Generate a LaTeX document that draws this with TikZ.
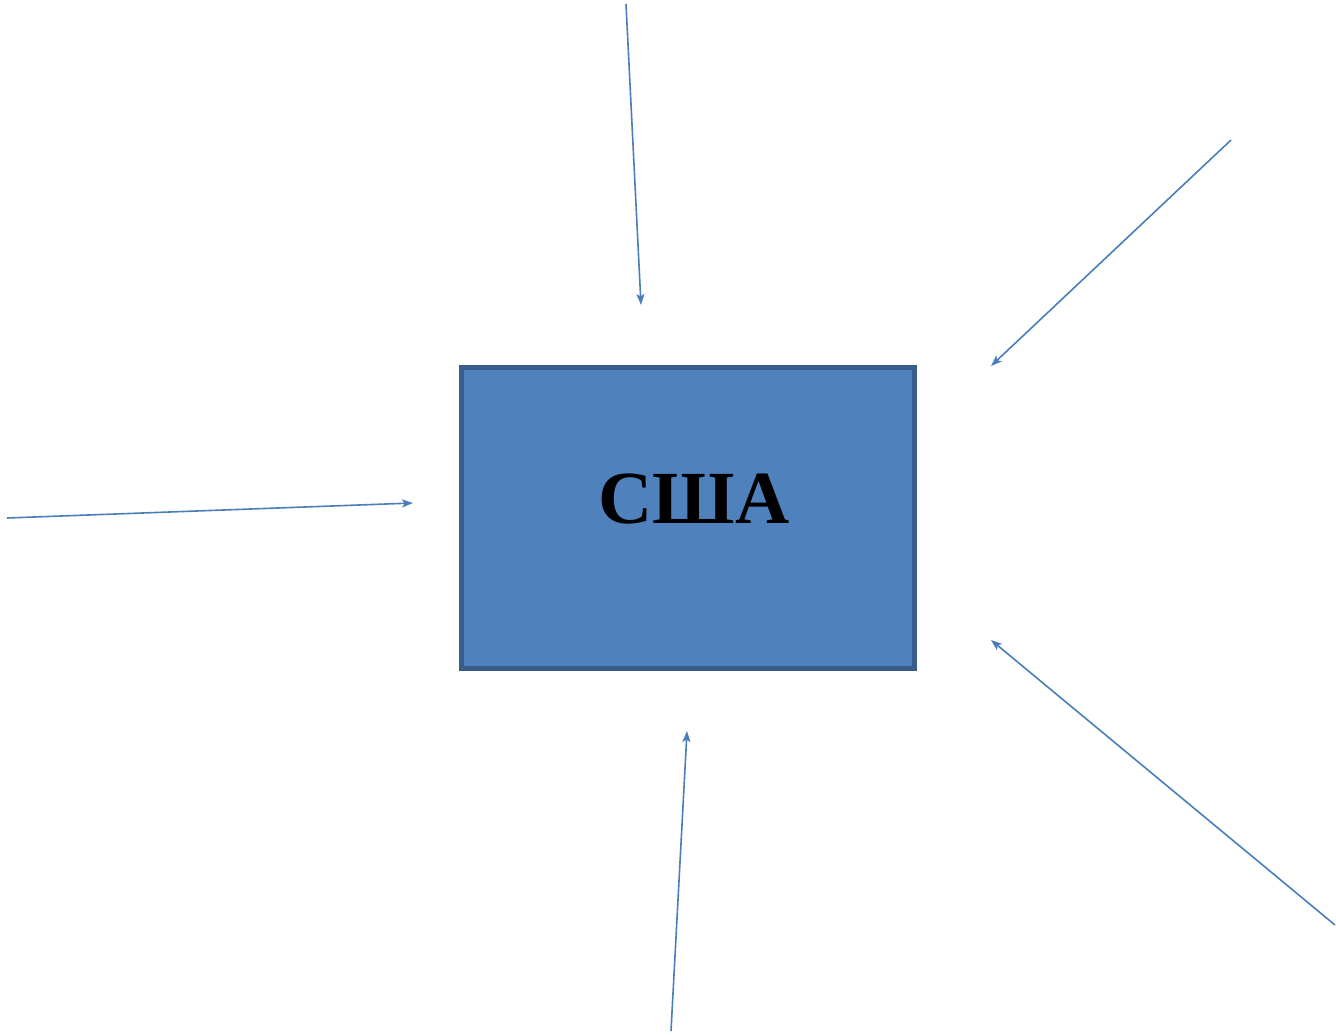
\documentclass[tikz,border=0pt]{standalone}
\usepackage{fontspec}
\setmainfont{Liberation Serif}
\usetikzlibrary{arrows.meta}

\definecolor{boxfill}{HTML}{4F81BD}
\definecolor{boxline}{HTML}{385D8A}
\definecolor{arrowline}{HTML}{4A7EBB}

\begin{document}
\begin{tikzpicture}[x=1pt, y=-1pt,
        pointer/.style={draw=arrowline, line width=1.6pt, -{Stealth[length=11pt, width=8pt, inset=2.5pt]}}]
        \useasboundingbox (0,0) rectangle (1336,1035);

        \coordinate (BoxNW) at (461, 367);
        \coordinate (BoxSE) at (914, 668);
        \filldraw[fill=boxfill, draw=boxline, line width=5pt] (BoxNW) rectangle (BoxSE);
        \node[font=\fontsize{75}{86}\selectfont\bfseries, inner sep=0pt] (usa) at (694, 499) {США};

        \coordinate (T1) at (626, 4);
        \coordinate (H1) at (641, 305);
        \coordinate (T2) at (1231, 140);
        \coordinate (H2) at (991, 366);
        \coordinate (T3) at (7, 518);
        \coordinate (H3) at (413, 503);
        \coordinate (T4) at (1335, 925);
        \coordinate (H4) at (991, 640);
        \coordinate (T5) at (671, 1031);
        \coordinate (H5) at (687, 731);

        \draw[pointer] (T1) -- (H1);
        \draw[pointer] (T2) -- (H2);
        \draw[pointer] (T3) -- (H3);
        \draw[pointer] (T4) -- (H4);
        \draw[pointer] (T5) -- (H5);
    \end{tikzpicture}
\end{document}
